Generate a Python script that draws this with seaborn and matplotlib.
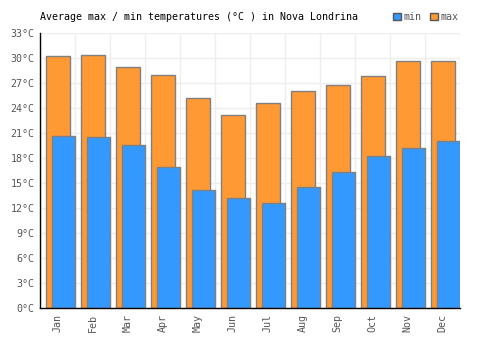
import numpy as np
import pandas as pd
import matplotlib
matplotlib.use("Agg")
import matplotlib.pyplot as plt
from matplotlib.patches import Patch
import seaborn as sns

months = ["Jan", "Feb", "Mar", "Apr", "May", "Jun", "Jul", "Aug", "Sep", "Oct", "Nov", "Dec"]
temp_max = [30.2, 30.4, 28.9, 28.0, 25.2, 23.2, 24.6, 26.0, 26.8, 27.9, 29.6, 29.7]
temp_min = [20.6, 20.5, 19.6, 16.9, 14.2, 13.2, 12.6, 14.5, 16.3, 18.2, 19.2, 20.0]
y_ticks = list(range(0, 34, 3))

blue = "#3399ff"
orange = "#ff9933"
edge = "#808080"
mono = "DejaVu Sans Mono"

sns.set_style("white")
plt.rcParams["font.family"] = mono

pos = np.arange(len(months))
df_max = pd.DataFrame({"x": pos + 0.015, "v": temp_max})
df_min = pd.DataFrame({"x": pos + 0.165, "v": temp_min})

fig = plt.figure(figsize=(5, 3.5), dpi=100)
ax = fig.add_axes([0.08, 0.12, 0.84, 0.7857])
ax.set_axisbelow(True)

sns.barplot(data=df_max, x="x", y="v", native_scale=True, width=0.67,
            color=orange, saturation=1, edgecolor=edge, linewidth=1, ax=ax)
sns.barplot(data=df_min, x="x", y="v", native_scale=True, width=0.67,
            color=blue, saturation=1, edgecolor=edge, linewidth=1, ax=ax)

ax.set_xlim(-0.5, 11.5)
ax.set_ylim(0, 33)
ax.set_xticks(pos)
ax.set_xticklabels(months, rotation=90)
ax.set_xticks(np.arange(-0.5, 12, 1), minor=True)
ax.set_yticks(y_ticks)
ax.set_yticklabels([f"{t}°C" for t in y_ticks])
ax.set_xlabel("")
ax.set_ylabel("")
ax.tick_params(axis="both", which="both", length=0, labelsize=7.2, colors="#555555", pad=4)
ax.grid(True, axis="y", which="major", color="#eeeeee", linewidth=1)
ax.grid(True, axis="x", which="minor", color="#eeeeee", linewidth=1)
ax.grid(False, axis="x", which="major")

for s in ["top", "right"]:
    ax.spines[s].set_visible(False)
for s in ["left", "bottom"]:
    ax.spines[s].set_color("black")
    ax.spines[s].set_linewidth(1)

fig.text(0.08, 0.95, "Average max / min temperatures (°C ) in Nova Londrina",
         fontsize=7.2, color="black", va="center", ha="left")

handles = [Patch(facecolor=blue, edgecolor="#555555", label="min"),
           Patch(facecolor=orange, edgecolor="#555555", label="max")]
fig.legend(handles=handles, loc="center left", bbox_to_anchor=(0.775, 0.952), ncol=2,
           frameon=False, fontsize=7.2, handlelength=0.8, handleheight=0.8,
           handletextpad=0.3, columnspacing=0.8, borderpad=0, labelcolor="#555555")

fig.savefig("out.png", dpi=100)
